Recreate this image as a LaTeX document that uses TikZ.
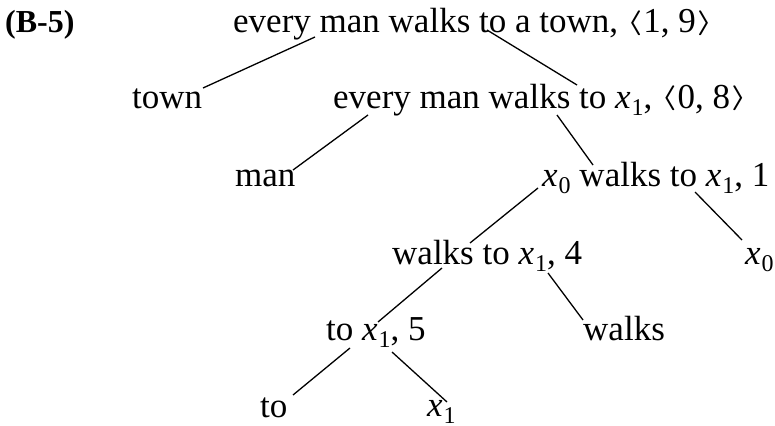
\documentclass[tikz,border=0pt]{standalone}
\usepackage{fontspec}
\usepackage{graphicx}
\setmainfont{Liberation Serif}
\newcommand\vx[1]{\textit{x}\kern1pt\raisebox{-0.22em}{\fontsize{24}{26}\selectfont #1}}
\newcommand\abra{\raisebox{3.5pt}{\scalebox{1.4}[1]{\fontsize{24}{26}\selectfont\boldmath$\langle$}}\kern1pt}
\newcommand\aket{\kern1pt\raisebox{3.5pt}{\scalebox{1.4}[1]{\fontsize{24}{26}\selectfont\boldmath$\rangle$}}}
\begin{document}
\begin{tikzpicture}[x=1pt,y=-1pt,
  lbl/.style={inner sep=0pt,anchor=base west,font=\fontsize{35}{40}\selectfont},
  edge/.style={line width=1.3pt}]
\useasboundingbox (0,0) rectangle (775,425);
% nodes
\node[lbl,font=\fontsize{32}{38}\selectfont\bfseries] (b5) at (5,33) {(B-5)};
\node[lbl] (root) at (233,33) {every man walks to a town, \abra1, 9\aket};
\node[lbl] (town) at (132,108) {town};
\node[lbl] (n2) at (333,108) {every man walks to \vx{1}, \abra0, 8\aket};
\node[lbl] (man) at (235,186) {man};
\node[lbl] (n3) at (542,186) {\vx{0} walks to \vx{1}, 1};
\node[lbl] (n4) at (392,264) {walks to \vx{1}, 4};
\node[lbl] (x0r) at (745,264) {\vx{0}};
\node[lbl] (n5) at (326,340) {to \vx{1}, 5};
\node[lbl] (walks) at (583,340) {walks};
\node[lbl] (to) at (260,417) {to};
\node[lbl] (x1) at (427,416) {\vx{1}};
% connector ends
\coordinate (root-a) at (315,37);
\coordinate (town-a) at (203,88);
\coordinate (root-b) at (487,30);
\coordinate (n2-t) at (577,85);
\coordinate (n2-a) at (368,115);
\coordinate (man-a) at (293,170);
\coordinate (n2-b) at (557,115);
\coordinate (n3-t) at (593,165);
\coordinate (n3-a) at (538,188);
\coordinate (n4-t) at (470,243);
\coordinate (n3-b) at (695,192);
\coordinate (x0r-t) at (742,240);
\coordinate (n4-a) at (442,268);
\coordinate (n5-t) at (378,322);
\coordinate (n4-b) at (548,273);
\coordinate (walks-t) at (583,320);
\coordinate (n5-a) at (350,348);
\coordinate (to-t) at (293,395);
\coordinate (n5-b) at (392,352);
\coordinate (x1-t) at (447,402);
% connectors
\draw[edge] (root-a) -- (town-a);
\draw[edge] (root-b) -- (n2-t);
\draw[edge] (n2-a) -- (man-a);
\draw[edge] (n2-b) -- (n3-t);
\draw[edge] (n3-a) -- (n4-t);
\draw[edge] (n3-b) -- (x0r-t);
\draw[edge] (n4-a) -- (n5-t);
\draw[edge] (n4-b) -- (walks-t);
\draw[edge] (n5-a) -- (to-t);
\draw[edge] (n5-b) -- (x1-t);
\end{tikzpicture}
\end{document}
